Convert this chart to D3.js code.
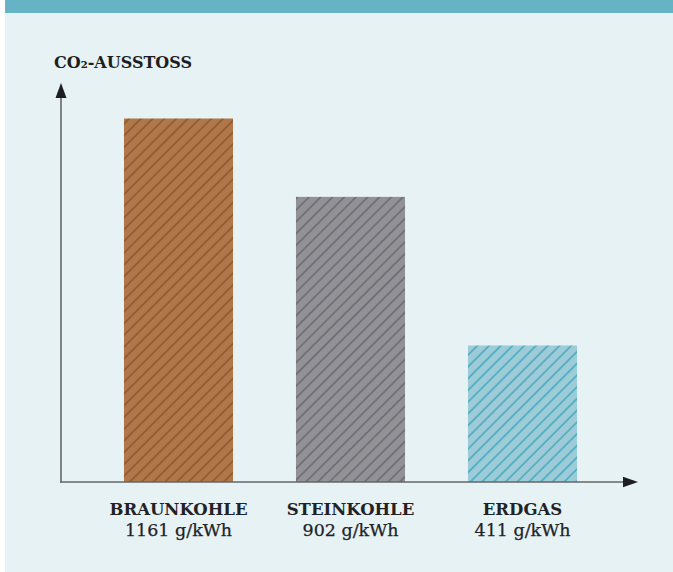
<!DOCTYPE html>
<html><head><meta charset="utf-8">
<script src="https://cdn.jsdelivr.net/npm/d3@7"></script>
<style>
html,body{margin:0;padding:0;background:#fff;}
svg{display:block;}
</style></head>
<body>
<script>
const categories = ["BRAUNKOHLE", "STEINKOHLE", "ERDGAS"];
const values = [1161, 902, 411];
const unit = "g/kWh";
const title = "CO₂-AUSSTOSS";

const W = 673, H = 572;
const fills = ["#b0784a", "#919196", "#9dcbd7"];
const hatch = ["#8a5428", "#66666c", "#3ea6bd"];

const svg = d3.select("body").append("svg").attr("width", W).attr("height", H);
svg.append("rect").attr("x", 5).attr("y", 0).attr("width", W - 5).attr("height", H).attr("fill", "#e6f2f4");
svg.append("rect").attr("x", 5).attr("y", 0).attr("width", W - 5).attr("height", 13).attr("fill", "#66b3c6");

const defs = svg.append("defs");
categories.forEach((c, i) => {
  const p = defs.append("pattern").attr("id", "h" + i).attr("patternUnits", "userSpaceOnUse")
    .attr("width", 8.3).attr("height", 8.3).attr("patternTransform", "rotate(45)");
  p.append("rect").attr("width", 8.3).attr("height", 8.3).attr("fill", fills[i]);
  p.append("line").attr("x1", 1).attr("x2", 1).attr("y1", 0).attr("y2", 8.3)
    .attr("stroke", hatch[i]).attr("stroke-width", 1.4);
});

const baseY = 482;
const x = d3.scaleBand().domain(categories).range([92.5, 608.5]).paddingInner(0.366).paddingOuter(0.183);
const y = d3.scaleLinear().domain([-40, 1161]).range([baseY, 118.5]);

svg.selectAll("rect.bar").data(values).join("rect").attr("class", "bar")
  .attr("x", (d, i) => x(categories[i]))
  .attr("width", x.bandwidth())
  .attr("y", d => y(d))
  .attr("height", d => baseY - y(d))
  .attr("fill", (d, i) => "url(#h" + i + ")");

// axes
const axisCol = "#666";
svg.append("line").attr("x1", 61).attr("x2", 61).attr("y1", 95).attr("y2", baseY + 0.75)
  .attr("stroke", axisCol).attr("stroke-width", 1.6);
svg.append("line").attr("x1", 60.2).attr("x2", 626).attr("y1", baseY).attr("y2", baseY)
  .attr("stroke", axisCol).attr("stroke-width", 1.6);
svg.append("path").attr("d", "M61,83 L66.5,98 L55.5,98 Z").attr("fill", "#1e1e22");
svg.append("path").attr("d", "M638,482 L623,476.8 L623,487.2 Z").attr("fill", "#1e1e22");

// title
svg.append("text").attr("x", 54).attr("y", 68)
  .attr("font-family", "DejaVu Serif").attr("font-weight", "bold").attr("font-size", 16)
  .attr("fill", "#1e1e22").text(title);

// labels
const lab = svg.append("g").attr("font-family", "DejaVu Serif").attr("fill", "#222226").attr("text-anchor", "middle");
lab.selectAll("text.cat").data(categories).join("text").attr("class", "cat")
  .attr("x", d => x(d) + x.bandwidth() / 2).attr("y", 515)
  .attr("font-weight", "bold").attr("font-size", 16.5).text(d => d);
lab.selectAll("text.val").data(values).join("text").attr("class", "val")
  .attr("x", (d, i) => x(categories[i]) + x.bandwidth() / 2).attr("y", 536)
  .attr("font-size", 17.5).attr("stroke", "#222226").attr("stroke-width", 0.25).text(d => d + " " + unit);
</script>
</body></html>
